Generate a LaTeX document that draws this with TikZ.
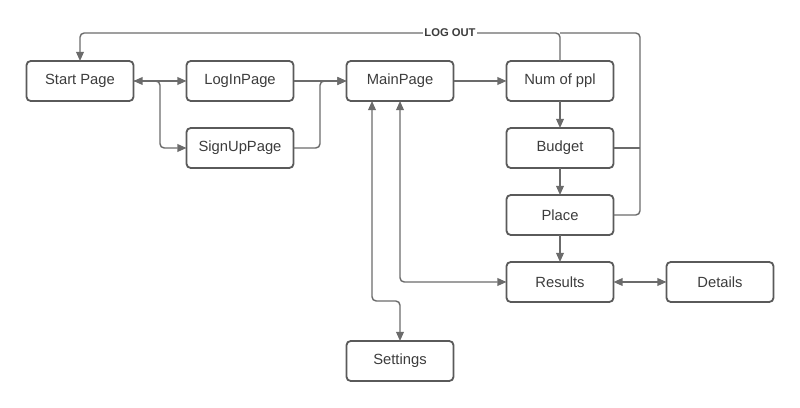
\documentclass[tikz,border=0pt]{standalone}
\usepackage{fontspec}
\setmainfont{Liberation Sans}
\usepackage{tikz}
\usetikzlibrary{positioning,arrows.meta}

\definecolor{boxgray}{HTML}{5A5A5A}
\definecolor{linegray}{HTML}{6B6B6B}
\definecolor{txtgray}{HTML}{3C3C3C}

\begin{document}
\begin{tikzpicture}[
			node distance=0.675cm and 1.325cm,
			page/.style={
					draw=boxgray,
					line width=1.3pt,
					rounded corners=3pt,
					fill=white,
					text=txtgray,
					font=\fontsize{10.5}{12}\selectfont,
					align=center,
					outer sep=0pt,
					minimum width=2.675cm,
					minimum height=1cm
				},
			conn/.style={
					draw=linegray,
					line width=1pt,
					rounded corners=3pt
				},
			>={Triangle[length=6.5pt,width=5.5pt]}
		]

		\useasboundingbox (-2,2.025) rectangle (18,-8.175);

		\node (start) [page] {Start Page};

		\node (login) [page, right=of start] {LogInPage};

		\node (signup) [page, below=of login] {SignUpPage};

		\node (main) [page, right=of login] {MainPage};

		\node (numppl) [page, right=of main] {Num of ppl};

		\node (budget) [page, below=of numppl] {Budget};

		\node (place) [page, below=of budget] {Place};

		\node (results) [page, below=of place] {Results};

		\node (details) [page, right=of results] {Details};

		\node (settings) [page] at (8,-7) {Settings};

		\coordinate (logout) at (14,1.2);

		\draw[conn,<->] (start) -- (login);
		\draw[conn,->] (start.east) -- ++(0.6625,0) |- (signup.west);
		\draw[conn,->] (login) -- (main);
		\draw[conn,->] (signup.east) -- ++(0.6625,0) |- (main.west);
		\draw[conn,->] (main) -- (numppl);
		\draw[conn,->] (numppl) -- (budget);
		\draw[conn,->] (budget) -- (place);
		\draw[conn,->] (place) -- (results);
		\draw[conn,<->] (results) -- (details);
		\draw[conn,<->] (main.south) |- (results.west);
		\draw[conn,<->] ([xshift=-7mm]main.south) |- ([yshift=1cm]settings.north)
			-- (settings.north);

		% log out lines
		\draw[conn,->] (numppl.north) -- ++(0,0.7) -| (start.north);
		\draw[conn] (place.east) -| (logout) -- ([yshift=7mm]numppl.north);
		\draw[conn] (budget.east) -- (budget.east -| logout);

		\node (logouttxt) [fill=white, inner sep=1pt, text=txtgray,
			font=\fontsize{8}{9}\selectfont\bfseries] at (9.25,1.2) {LOG OUT};

	\end{tikzpicture}
\end{document}
